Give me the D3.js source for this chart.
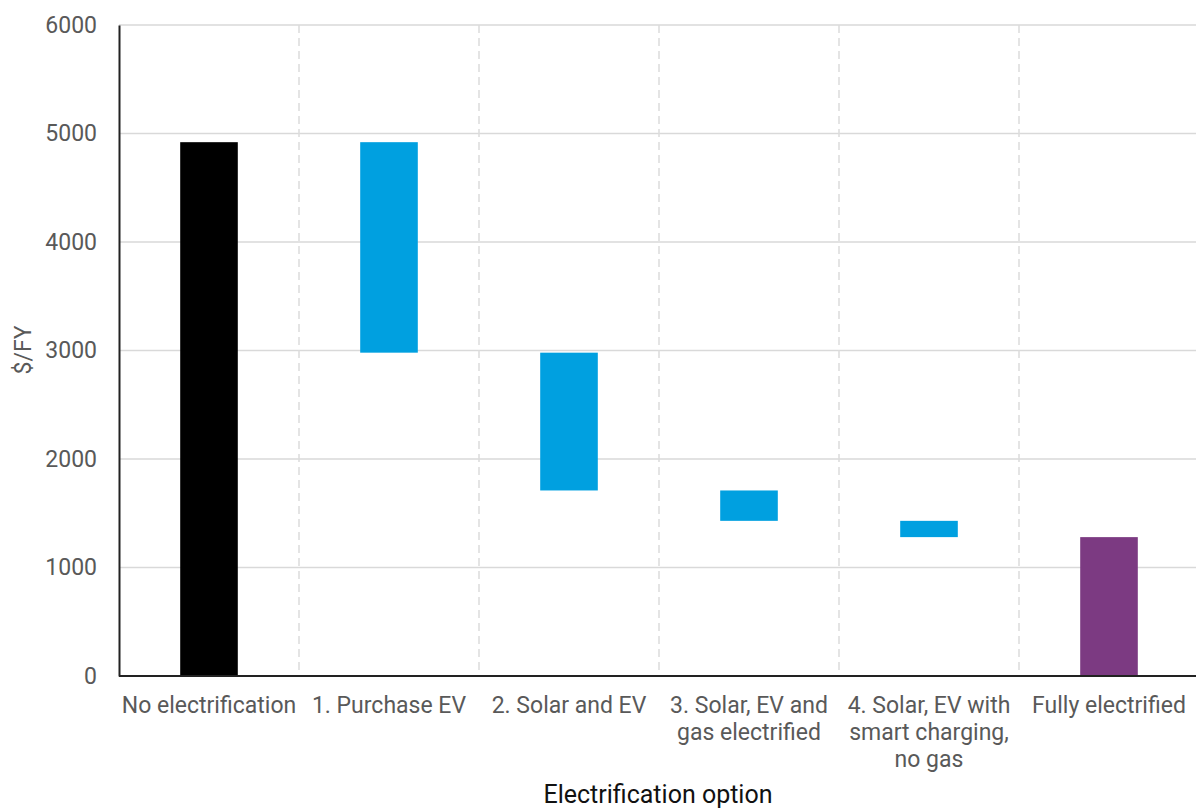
<!DOCTYPE html>
<html>
<head>
<meta charset="utf-8">
<script src="https://cdn.jsdelivr.net/npm/d3@7"></script>
<style>
  html, body { margin: 0; padding: 0; background: #ffffff; }
  svg { display: block; font-family: Roboto, "Noto Sans", sans-serif; }
</style>
</head>
<body>
<svg id="chart" width="1196" height="810"></svg>
<script>
// Annual household cost by electrification option (waterfall)
const categories = [
  "No electrification",
  "1. Purchase EV",
  "2. Solar and EV",
  "3. Solar, EV and gas electrified",
  "4. Solar, EV with smart charging, no gas",
  "Fully electrified"
];
// Wrapped label lines for each category
const categoryLines = [
  ["No electrification"],
  ["1. Purchase EV"],
  ["2. Solar and EV"],
  ["3. Solar, EV and", "gas electrified"],
  ["4. Solar, EV with", "smart charging,", "no gas"],
  ["Fully electrified"]
];
// Upper and lower ends of each bar ($/FY)
const barHigh = [4920, 4920, 2980, 1710, 1430, 1280];
const barLow  = [0,    2980, 1710, 1430, 1280, 0];
const barKind = ["total", "step", "step", "step", "step", "result"];
const yTicks = [0, 1000, 2000, 3000, 4000, 5000, 6000];

const colors = { total: "#000000", step: "#00a0e0", result: "#7c3a82" };

const svg = d3.select("#chart");
const plotLeft = 119, plotRight = 1199, plotTop = 25, plotBottom = 676;

const x = d3.scaleBand()
  .domain(categories)
  .range([plotLeft, plotRight])
  .paddingInner(0.68)
  .paddingOuter(0.34);

const y = d3.scaleLinear().domain([0, 6000]).range([plotBottom, plotTop]);

// Horizontal gridlines
svg.append("g")
  .selectAll("line")
  .data(yTicks.filter(d => d > 0))
  .join("line")
  .attr("x1", plotLeft).attr("x2", 1196)
  .attr("y1", d => y(d)).attr("y2", d => y(d))
  .attr("stroke", "#d9d9d9")
  .attr("stroke-width", 1.5);

// Dashed category separators
const step = x.step();
const seps = categories.slice(1).map(c => x(c) - x.paddingOuter() * step);
svg.append("g")
  .selectAll("line")
  .data(seps)
  .join("line")
  .attr("x1", d => d).attr("x2", d => d)
  .attr("y1", plotTop).attr("y2", plotBottom)
  .attr("stroke", "#dcdcdc")
  .attr("stroke-width", 1.5)
  .attr("stroke-dasharray", "8,5");

// Bars
svg.append("g")
  .selectAll("rect")
  .data(categories)
  .join("rect")
  .attr("x", d => x(d))
  .attr("width", x.bandwidth())
  .attr("y", (d, i) => y(barHigh[i]))
  .attr("height", (d, i) => y(barLow[i]) - y(barHigh[i]))
  .attr("fill", (d, i) => colors[barKind[i]]);

// Y axis
const yAxis = d3.axisLeft(y).tickValues(yTicks).tickSize(0).tickPadding(22).tickFormat(d3.format("d"));
const gy = svg.append("g").attr("transform", `translate(${plotLeft},0)`).call(yAxis);
gy.select(".domain").attr("stroke", "#222").attr("stroke-width", 2);
gy.selectAll("text")
  .attr("font-size", 23)
  .attr("fill", "#595959")
  .attr("font-family", "Roboto, sans-serif");

// X axis baseline
svg.append("line")
  .attr("x1", plotLeft).attr("x2", 1196)
  .attr("y1", plotBottom).attr("y2", plotBottom)
  .attr("stroke", "#222").attr("stroke-width", 2);

// X category labels
const xl = svg.append("g");
categories.forEach((c, i) => {
  const cx = x(c) + x.bandwidth() / 2;
  const t = xl.append("text")
    .attr("x", cx)
    .attr("y", 713)
    .attr("text-anchor", "middle")
    .attr("font-size", 23)
    .attr("fill", "#595959");
  categoryLines[i].forEach((line, j) => {
    t.append("tspan")
      .attr("x", cx)
      .attr("dy", j === 0 ? 0 : 27)
      .text(line);
  });
});

// Axis titles
svg.append("text")
  .attr("x", 658).attr("y", 803)
  .attr("text-anchor", "middle")
  .attr("font-size", 25)
  .attr("fill", "#111")
  .text("Electrification option");

svg.append("text")
  .attr("transform", "translate(31,350) rotate(-90)")
  .attr("text-anchor", "middle")
  .attr("font-size", 23)
  .attr("fill", "#595959")
  .text("$/FY");
</script>
</body>
</html>
